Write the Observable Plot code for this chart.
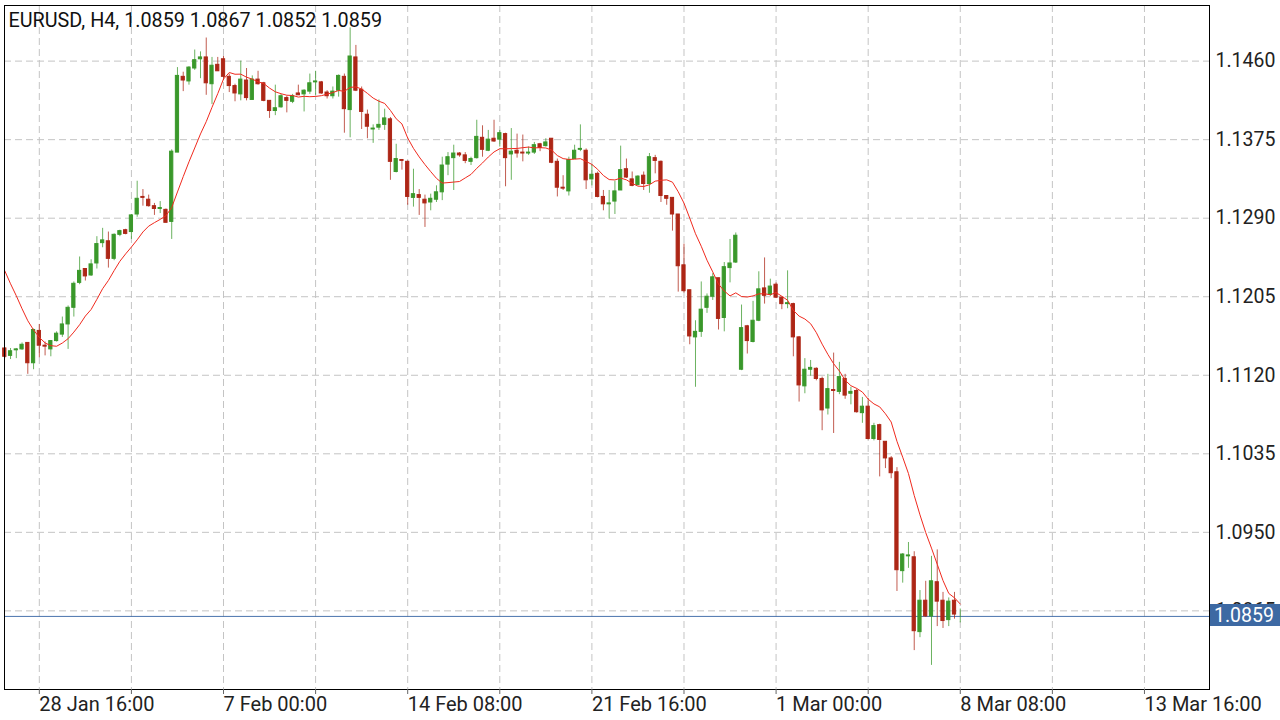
<!DOCTYPE html>
<html><head><meta charset="utf-8">
<script src="https://cdn.jsdelivr.net/npm/d3@7"></script>
<script src="https://cdn.jsdelivr.net/npm/@observablehq/plot@0.6"></script>
<style>
html,body{margin:0;padding:0;background:#fff;}
#chart{width:1280px;height:720px;overflow:hidden;}
</style></head><body><div id="chart"></div>
<script>
const symbol = "EURUSD";
const timeframe = "H4";
const opens = [1.1149,1.1141,1.1147,1.1148,1.1155,1.1133,1.1168,1.1152,1.1148,1.1157,
1.1164,1.1175,1.1193,1.1220,1.1235,1.1228,1.1241,1.1263,1.1265,1.1246,
1.1272,1.1277,1.1275,1.1294,1.1313,1.1310,1.1303,1.1300,1.1299,1.1286,
1.1361,1.1443,1.1438,1.1452,1.1462,1.1464,1.1435,1.1456,1.1462,1.1443,
1.1433,1.1424,1.1439,1.1418,1.1440,1.1436,1.1417,1.1406,1.1410,1.1420,
1.1416,1.1425,1.1424,1.1427,1.1437,1.1437,1.1426,1.1422,1.1428,1.1443,
1.1407,1.1464,1.1429,1.1402,1.1386,1.1388,1.1391,1.1397,1.1340,1.1353,
1.1351,1.1312,1.1315,1.1310,1.1307,1.1310,1.1318,1.1348,1.1355,1.1360,
1.1358,1.1351,1.1355,1.1377,1.1363,1.1376,1.1375,1.1381,1.1359,1.1363,
1.1361,1.1360,1.1361,1.1370,1.1368,1.1376,1.1351,1.1323,1.1319,1.1354,
1.1364,1.1363,1.1332,1.1338,1.1313,1.1305,1.1308,1.1320,1.1343,1.1332,
1.1326,1.1336,1.1327,1.1355,1.1351,1.1314,1.1312,1.1294,1.1239,1.1212,
1.1161,1.1167,1.1193,1.1205,1.1225,1.1182,1.1236,1.1242,1.1126,1.1173,
1.1156,1.1179,1.1214,1.1207,1.1218,1.1204,1.1197,1.1197,1.1161,1.1108,
1.1126,1.1127,1.1116,1.1084,1.1104,1.1102,1.1116,1.1100,1.1103,1.1079,
1.1086,1.1051,1.1066,1.1048,1.1030,1.1015,1.0908,1.0924,1.0923,1.0842,
1.0876,1.0859,1.0896,1.0876,1.0855,1.0876,1.0859];
const highs = [1.1150,1.1149,1.1149,1.1155,1.1155,1.1170,1.1175,1.1156,1.1157,1.1167,
1.1183,1.1195,1.1221,1.1248,1.1235,1.1245,1.1270,1.1279,1.1275,1.1273,
1.1277,1.1278,1.1294,1.1330,1.1321,1.1315,1.1306,1.1308,1.1300,1.1364,
1.1453,1.1448,1.1454,1.1472,1.1470,1.1485,1.1464,1.1464,1.1465,1.1446,
1.1435,1.1460,1.1452,1.1444,1.1449,1.1437,1.1417,1.1434,1.1424,1.1422,
1.1424,1.1434,1.1429,1.1446,1.1449,1.1438,1.1428,1.1432,1.1445,1.1446,
1.1496,1.1477,1.1432,1.1407,1.1391,1.1418,1.1408,1.1399,1.1370,1.1353,
1.1352,1.1343,1.1321,1.1315,1.1316,1.1325,1.1356,1.1361,1.1369,1.1361,
1.1361,1.1356,1.1396,1.1390,1.1385,1.1396,1.1385,1.1382,1.1387,1.1381,
1.1380,1.1367,1.1372,1.1371,1.1376,1.1376,1.1354,1.1336,1.1356,1.1369,
1.1391,1.1365,1.1348,1.1340,1.1320,1.1320,1.1330,1.1368,1.1354,1.1340,
1.1336,1.1340,1.1360,1.1358,1.1352,1.1314,1.1312,1.1294,1.1262,1.1212,
1.1179,1.1221,1.1208,1.1230,1.1225,1.1242,1.1267,1.1274,1.1196,1.1174,
1.1200,1.1232,1.1247,1.1224,1.1220,1.1205,1.1233,1.1198,1.1162,1.1138,
1.1136,1.1128,1.1118,1.1121,1.1144,1.1134,1.1121,1.1107,1.1105,1.1096,
1.1095,1.1068,1.1067,1.1048,1.1032,1.1020,1.0927,1.0939,1.0929,1.0887,
1.0897,1.0924,1.0931,1.0885,1.0879,1.0885,1.0867];
const lows = [1.1138,1.1137,1.1138,1.1147,1.1121,1.1126,1.1139,1.1141,1.1140,1.1156,
1.1161,1.1148,1.1183,1.1218,1.1222,1.1227,1.1235,1.1258,1.1236,1.1244,
1.1270,1.1272,1.1267,1.1291,1.1303,1.1302,1.1293,1.1295,1.1285,1.1267,
1.1361,1.1427,1.1434,1.1450,1.1441,1.1423,1.1413,1.1449,1.1439,1.1426,
1.1416,1.1417,1.1417,1.1418,1.1434,1.1416,1.1398,1.1401,1.1409,1.1404,
1.1414,1.1423,1.1405,1.1424,1.1423,1.1424,1.1419,1.1419,1.1421,1.1382,
1.1377,1.1427,1.1386,1.1376,1.1371,1.1385,1.1385,1.1331,1.1339,1.1342,
1.1304,1.1302,1.1293,1.1280,1.1298,1.1307,1.1309,1.1336,1.1320,1.1356,
1.1349,1.1347,1.1354,1.1356,1.1362,1.1372,1.1367,1.1324,1.1331,1.1355,
1.1351,1.1358,1.1359,1.1362,1.1367,1.1349,1.1313,1.1320,1.1314,1.1354,
1.1362,1.1321,1.1325,1.1312,1.1298,1.1289,1.1294,1.1320,1.1333,1.1324,
1.1325,1.1320,1.1317,1.1338,1.1307,1.1304,1.1276,1.1210,1.1209,1.1153,
1.1107,1.1161,1.1187,1.1201,1.1169,1.1167,1.1220,1.1241,1.1125,1.1143,
1.1155,1.1178,1.1197,1.1205,1.1203,1.1191,1.1192,1.1140,1.1091,1.1100,
1.1119,1.1114,1.1060,1.1077,1.1057,1.1099,1.1094,1.1088,1.1079,1.1068,
1.1050,1.1049,1.1010,1.1019,1.1008,1.0886,1.0895,1.0911,1.0822,1.0836,
1.0858,1.0806,1.0848,1.0846,1.0848,1.0856,1.0852];
const closes = [1.1140,1.1146,1.1148,1.1153,1.1133,1.1169,1.1152,1.1151,1.1157,1.1165,
1.1175,1.1193,1.1219,1.1233,1.1227,1.1240,1.1262,1.1266,1.1246,1.1272,
1.1276,1.1273,1.1293,1.1311,1.1312,1.1303,1.1300,1.1301,1.1285,1.1362,
1.1444,1.1439,1.1453,1.1461,1.1464,1.1436,1.1455,1.1449,1.1443,1.1433,
1.1425,1.1440,1.1420,1.1440,1.1435,1.1417,1.1406,1.1409,1.1422,1.1417,
1.1422,1.1423,1.1428,1.1436,1.1438,1.1425,1.1422,1.1427,1.1444,1.1408,
1.1465,1.1428,1.1405,1.1389,1.1387,1.1391,1.1398,1.1351,1.1354,1.1352,
1.1313,1.1316,1.1312,1.1306,1.1311,1.1318,1.1347,1.1356,1.1360,1.1358,
1.1352,1.1354,1.1378,1.1364,1.1375,1.1373,1.1382,1.1355,1.1362,1.1360,
1.1360,1.1361,1.1369,1.1366,1.1372,1.1350,1.1323,1.1322,1.1353,1.1363,
1.1365,1.1331,1.1337,1.1313,1.1305,1.1306,1.1319,1.1342,1.1334,1.1325,
1.1335,1.1327,1.1356,1.1352,1.1314,1.1311,1.1294,1.1238,1.1211,1.1162,
1.1167,1.1191,1.1205,1.1226,1.1181,1.1237,1.1241,1.1271,1.1171,1.1157,
1.1179,1.1213,1.1206,1.1216,1.1204,1.1197,1.1198,1.1161,1.1109,1.1126,
1.1128,1.1116,1.1082,1.1105,1.1103,1.1118,1.1098,1.1102,1.1080,1.1086,
1.1051,1.1065,1.1050,1.1030,1.1014,1.0909,1.0926,1.0925,1.0843,1.0876,
1.0859,1.0897,1.0875,1.0854,1.0875,1.0861,1.0859];
// moving average (10) values read for the first bars (history before the window)
const maHead = [1.1233,1.1219,1.1206,1.1192,1.1179,1.1169,1.1161,1.1155,1.1152];
const maPeriod = 10;
const yTicks = [1.1460,1.1375,1.1290,1.1205,1.1120,1.1035,1.0950,1.0865];
const gridIdx = [6,22,38,54,70,86,102,118,134,150,166,182,198];
const labelIdx = [6,38,70,102,134,166,198];
const labelText = ["28 Jan 16:00","7 Feb 00:00","14 Feb 08:00","21 Feb 16:00","1 Mar 00:00","8 Mar 08:00","13 Mar 16:00"];

const bars = opens.map((o, i) => ({i, open: o, high: highs[i], low: lows[i], close: closes[i]}));
const up = bars.filter(d => d.close >= d.open);
const down = bars.filter(d => d.close < d.open);
const maData = closes.map((c, i) => ({i, ma: i < maPeriod - 1 ? maHead[i] : d3.mean(closes.slice(i - maPeriod + 1, i + 1))}));
const last = bars[bars.length - 1];
const title = `${symbol}, ${timeframe}, ${last.open.toFixed(4)} ${last.high.toFixed(4)} ${last.low.toFixed(4)} ${last.close.toFixed(4)}`;
const labelMap = new Map(labelIdx.map((d, k) => [d, labelText[k]]));

const GREEN = "#3a982b", RED = "#ad2616";
const gridStyle = {stroke: "#c4c4c4", strokeOpacity: 1, strokeDasharray: "7,4"};

function priceTag(index, scales, values, dims) {
  const y = Math.round(scales.y(last.close));
  const x0 = dims.width - dims.marginRight;
  const g = d3.create("svg:g");
  g.append("rect").attr("x", x0 + 1).attr("y", y - 12).attr("width", dims.marginRight).attr("height", 22).attr("fill", "#3d69a3");
  g.append("text").attr("x", x0 + 5).attr("y", y - 1).attr("dy", "0.36em").attr("fill", "#fff")
    .attr("text-anchor", "start").attr("font-size", 19.5).attr("font-family", "Roboto").text(last.close.toFixed(4));
  return g.node();
}

const plot = Plot.plot({
  width: 1280, height: 720,
  marginLeft: 4, marginRight: 71, marginTop: 5, marginBottom: 31,
  style: {fontFamily: "Roboto", background: "#fff", color: "#222", overflow: "visible"},
  x: {domain: [-0.05, 209.3], axis: null},
  y: {domain: [1.07799, 1.15202], axis: null},
  marks: [
    Plot.gridY(yTicks, gridStyle),
    Plot.gridX(gridIdx, gridStyle),
    Plot.ruleY([last.close], {stroke: "#4a74ad", strokeWidth: 1}),
    Plot.ruleX(up, {x: "i", y1: "low", y2: "high", stroke: GREEN, strokeOpacity: 0.75}),
    Plot.ruleX(down, {x: "i", y1: "low", y2: "high", stroke: RED, strokeOpacity: 0.75}),
    Plot.rect(up, {x1: d => d.i - 0.28, x2: d => d.i + 0.28, y1: "open", y2: "close", fill: GREEN, stroke: GREEN, strokeWidth: 1}),
    Plot.rect(down, {x1: d => d.i - 0.28, x2: d => d.i + 0.28, y1: "close", y2: "open", fill: RED, stroke: RED, strokeWidth: 1}),
    Plot.line(maData, {x: "i", y: "ma", stroke: "#f02a1e", strokeWidth: 1}),
    Plot.frame({stroke: "#000", strokeWidth: 1}),
    Plot.axisY(yTicks, {anchor: "right", label: null, tickSize: 0, tickPadding: 6, tickFormat: d => d.toFixed(4), fontSize: 19.5, fill: "#222"}),
    Plot.axisX(gridIdx, {anchor: "bottom", label: null, tickSize: 5, tickPadding: 2, tickFormat: d => labelMap.get(d) ?? "", textAnchor: "start", fontSize: 20, fill: "#222", stroke: "#666"}),
    priceTag,
    Plot.text([title], {frameAnchor: "top-left", dx: 4, dy: 7.5, lineAnchor: "top", textAnchor: "start", fontSize: 19.8, fill: "#111"})
  ]
});
document.getElementById("chart").appendChild(plot);
</script></body></html>
